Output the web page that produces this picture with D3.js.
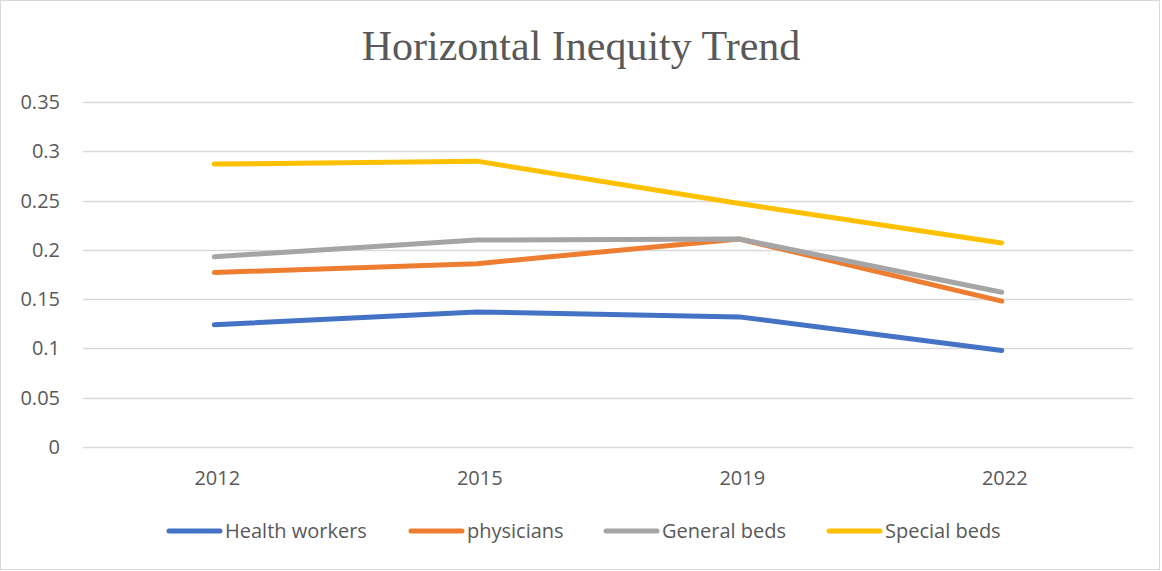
<!DOCTYPE html>
<html>
<head>
<meta charset="utf-8">
<script src="https://cdn.jsdelivr.net/npm/d3@7"></script>
<style>
  body { margin: 0; background: #fff; }
  text { fill: #595959; }
</style>
</head>
<body>
<div id="chart"></div>
<script>
// chart data
const years = ["2012", "2015", "2019", "2022"];
const healthWorkers = [0.124, 0.137, 0.132, 0.098];
const physicians = [0.177, 0.186, 0.211, 0.148];
const generalBeds = [0.193, 0.210, 0.211, 0.157];
const specialBeds = [0.287, 0.290, 0.247, 0.207];
const seriesNames = ["Health workers", "physicians", "General beds", "Special beds"];
const yTicks = [0, 0.05, 0.1, 0.15, 0.2, 0.25, 0.3, 0.35];

const seriesValues = [healthWorkers, physicians, generalBeds, specialBeds];
const colors = ["#4472C4", "#ED7D31", "#A5A5A5", "#FFC000"];

const width = 1162;
const height = 571;
const plot = { left: 83, right: 1133, top: 102, bottom: 447 };

const svg = d3.select("#chart")
    .append("svg")
    .attr("width", width)
    .attr("height", height);

// outer frame
svg.append("rect")
    .attr("x", 0.5).attr("y", 0.5)
    .attr("width", width - 3).attr("height", height - 2)
    .attr("fill", "#fff")
    .attr("stroke", "#D9D9D9");

svg.append("text")
    .attr("x", 581).attr("y", 60)
    .attr("text-anchor", "middle")
    .style("font-family", "'Liberation Serif', 'Times New Roman', serif")
    .style("font-size", "42px")
    .text("Horizontal Inequity Trend");

const x = d3.scaleBand().domain(years).range([plot.left, plot.right]);
const y = d3.scaleLinear().domain([0, 0.35]).range([plot.bottom, plot.top]);

// gridlines
svg.append("g")
    .selectAll("line")
    .data(yTicks)
    .enter().append("line")
    .attr("x1", plot.left).attr("x2", plot.right)
    .attr("y1", (d) => Math.round(y(d)) + 0.5)
    .attr("y2", (d) => Math.round(y(d)) + 0.5)
    .attr("stroke", "#D9D9D9")
    .attr("stroke-width", 1.3);

const labelFont = "'Open Sans', 'Noto Sans', sans-serif";

// y axis labels
svg.append("g")
    .selectAll("text")
    .data(yTicks)
    .enter().append("text")
    .attr("x", 60)
    .attr("y", (d) => y(d))
    .attr("dy", "0.35em")
    .attr("text-anchor", "end")
    .style("font-family", labelFont)
    .style("font-size", "20px")
    .text((d) => d3.format("")(+d.toFixed(2)));

// x axis labels
svg.append("g")
    .selectAll("text")
    .data(years)
    .enter().append("text")
    .attr("x", (d) => x(d) + x.bandwidth() / 2 + 3)
    .attr("y", 478)
    .attr("dy", "0.35em")
    .attr("text-anchor", "middle")
    .style("font-family", labelFont)
    .style("font-size", "20px")
    .text((d) => d);

// lines
const line = d3.line()
    .x((d, i) => x(years[i]) + x.bandwidth() / 2)
    .y((d) => y(d));

svg.append("g")
    .selectAll("path")
    .data(seriesValues)
    .enter().append("path")
    .attr("d", (d) => line(d))
    .attr("fill", "none")
    .attr("stroke", (d, i) => colors[i])
    .attr("stroke-width", 5)
    .attr("stroke-linecap", "round")
    .attr("stroke-linejoin", "round");

// legend
const legendX = [167, 409, 604, 827];
const legend = svg.append("g")
    .selectAll("g")
    .data(seriesNames)
    .enter().append("g")
    .attr("transform", (d, i) => "translate(" + legendX[i] + ",531)");

legend.append("line")
    .attr("x1", 2).attr("x2", 53)
    .attr("stroke", (d, i) => colors[i])
    .attr("stroke-width", 5)
    .attr("stroke-linecap", "round");

legend.append("text")
    .attr("x", 58)
    .attr("dy", "0.35em")
    .style("font-family", labelFont)
    .style("font-size", "20px")
    .text((d) => d);
</script>
</body>
</html>
